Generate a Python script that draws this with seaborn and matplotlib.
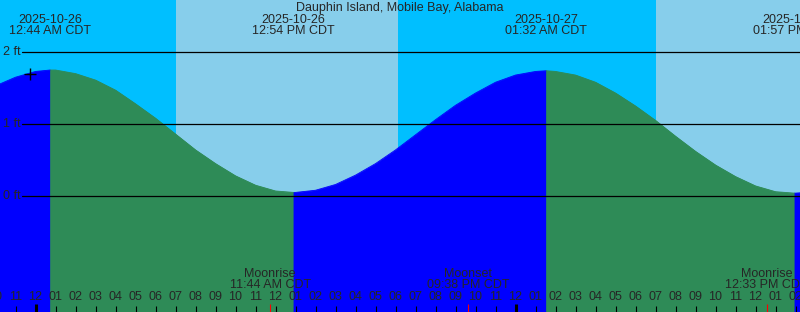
import numpy as np
import pandas as pd
import matplotlib
matplotlib.use("Agg")
import matplotlib.pyplot as plt
import seaborn as sns
from matplotlib.transforms import blended_transform_factory

# ---------------- data ----------------
station = "Dauphin Island, Mobile Bay, Alabama"

# hours since 2025-10-26 00:00 CDT, predicted tide height (ft)
hours = list(range(-2, 40))
heights = [1.53, 1.65, 1.73,
           1.75, 1.70, 1.61, 1.47, 1.28, 1.08, 0.86, 0.64, 0.45, 0.28, 0.15, 0.07,
           0.05, 0.08, 0.16, 0.29, 0.45, 0.64, 0.85, 1.06, 1.26, 1.43, 1.58, 1.68, 1.73,
           1.73, 1.68, 1.58, 1.43, 1.25, 1.05, 0.83, 0.62, 0.43, 0.27, 0.14, 0.06,
           0.04, 0.06]

# high / low tide extremes
ext_hours = [0 + 44 / 60, 12 + 54 / 60, 24 + 1 + 32 / 60, 24 + 13 + 57 / 60]
ext_heights = [1.75, 0.05, 1.74, 0.04]
ext_dates = ["2025-10-26", "2025-10-26", "2025-10-27", "2025-10-27"]
ext_times = ["12:44 AM CDT", "12:54 PM CDT", "01:32 AM CDT", "01:57 PM CDT"]

# daylight (sunrise, sunset) in hours
sunrise = [7.03, 31.03]
sunset = [18.13, 42.1]

# moon events
moon_names = ["Moonrise", "Moonset", "Moonrise"]
moon_times = ["11:44 AM CDT", "09:38 PM CDT", "12:33 PM CDT"]
moon_hours = [11 + 44 / 60, 21 + 38 / 60, 24 + 12 + 33 / 60]

# current time marker
now_hour = -0.275
now_height = 1.70

tick_hours = list(range(-2, 39))
y_levels = [2, 1, 0]

# ---------------- style ----------------
sns.set_style("white")
plt.rcParams["font.family"] = ["Liberation Sans", "DejaVu Sans"]
FS = 9

NIGHT = "#00BFFF"
DAY = "#87CEEB"
RISING = "#0000FF"
FALLING = "#2E8B57"

W, H = 800, 312
fig = plt.figure(figsize=(W / 100, H / 100), dpi=100)
ax = fig.add_axes([0, 0, 1, 1])

x0 = -35.5 / 20            # left edge in hours
x1 = x0 + W / 20
y_bot = (196 - H) / 72
y_top = 196 / 72
ax.set_xlim(x0, x1)
ax.set_ylim(y_bot, y_top)
ax.axis("off")

def px_y(p):
    return (196 - p) / 72

def px_x(p):
    return (p - 35.5) / 20

# background night / day
ax.axvspan(x0, x1, color=NIGHT, lw=0, zorder=0)
for sr, ss in zip(sunrise, sunset):
    ax.axvspan(sr, ss, color=DAY, lw=0, zorder=0.5)

# tide data frame with extremes merged
df = pd.DataFrame({"t": hours + ext_hours, "h": heights + ext_heights})
df = df.sort_values("t").drop_duplicates("t").reset_index(drop=True)

breaks = [df.t.min()] + ext_hours + [df.t.max()]
rows = []
for i in range(len(breaks) - 1):
    a, b = breaks[i], breaks[i + 1]
    seg = df[(df.t >= a) & (df.t <= b)].copy()
    phase = "rising" if seg.h.iloc[-1] > seg.h.iloc[0] else "falling"
    seg["phase"] = phase
    seg["seg"] = i
    rows.append(seg)
    col = RISING if phase == "rising" else FALLING
    ax.fill_between(seg.t, y_bot, seg.h, color=col, lw=0.6, edgecolor=col, zorder=1)
segdf = pd.concat(rows, ignore_index=True)
sns.lineplot(data=segdf, x="t", y="h", hue="phase", units="seg", estimator=None,
             palette={"rising": RISING, "falling": FALLING}, lw=0.6,
             legend=False, ax=ax, zorder=1.5)
ax.set_xlim(x0, x1)
ax.set_ylim(y_bot, y_top)

# horizontal reference lines
for v in y_levels:
    ax.axhline(v, xmin=22 / W, xmax=1, color="black", lw=0.9, zorder=2)
    ax.text(px_x(20.5), v, f"{v} ft", ha="right", va="center", fontsize=FS, zorder=3)

# title
ax.text(0.5 * (x0 + x1), px_y(7.5), station, ha="center", va="center", fontsize=FS, zorder=3)

# extreme labels
for t, d, tm in zip(ext_hours, ext_dates, ext_times):
    ax.text(t, px_y(19.5), d, ha="center", va="center", fontsize=FS, zorder=3)
    ax.text(t, px_y(31), tm, ha="center", va="center", fontsize=FS, zorder=3)

# current time marker
ax.plot([now_hour], [now_height], marker="+", color="black", ms=9, mew=1, zorder=4)

# moon events
for t, n, tm in zip(moon_hours, moon_names, moon_times):
    ax.text(t, px_y(274), n, ha="center", va="center", fontsize=FS, zorder=3)
    ax.text(t, px_y(285), tm, ha="center", va="center", fontsize=FS, zorder=3)
    ax.vlines(t, px_y(304), y_bot, color="red", lw=0.8, zorder=3)

# hour ticks
for t in tick_hours:
    hh = t % 12
    lab = f"{12 if hh == 0 else hh:02d}"
    ax.text(t, px_y(297.5), lab, ha="center", va="center", fontsize=FS, zorder=3)
    if t % 24 == 0:
        ax.vlines(t, px_y(304), y_bot, color="black", lw=2.2, zorder=3)
    else:
        ax.vlines(t, px_y(306), y_bot, color="black", lw=0.8, zorder=3)

fig.savefig("out.png", dpi=100)
